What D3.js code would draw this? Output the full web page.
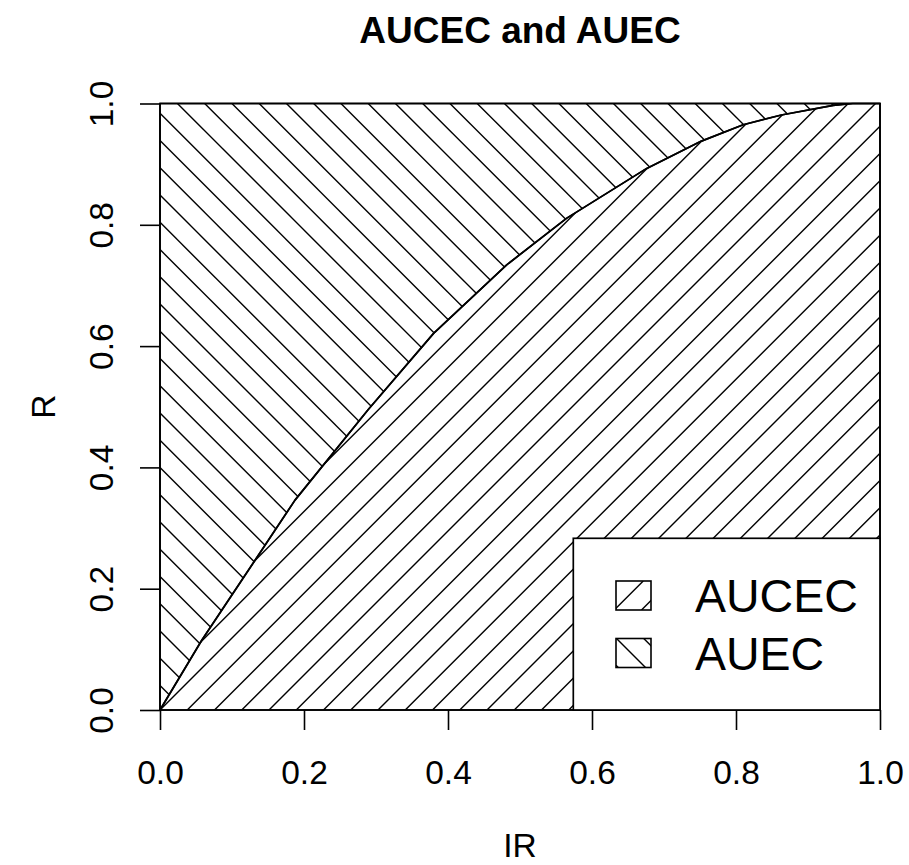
<!DOCTYPE html>
<html>
<head>
<meta charset="utf-8">
<script src="https://cdn.jsdelivr.net/npm/d3@7"></script>
<style>
  body { margin: 0; background: #fff; }
  svg text { font-family: "Liberation Sans", Arial, sans-serif; fill: #000; }
</style>
</head>
<body>
<div id="chart"></div>
<script>
// curve (IR vs R)
const irValues = [0, 0.058, 0.132, 0.1875, 0.289, 0.380, 0.4815, 0.565, 0.676, 0.752, 0.810, 0.863, 0.935, 0.962, 1];
const rValues  = [0, 0.115, 0.247, 0.346, 0.495, 0.621, 0.734, 0.811, 0.893, 0.938, 0.965, 0.981, 0.997, 1.0, 1];
const xTicks = [0, 0.2, 0.4, 0.6, 0.8, 1.0];
const yTicks = [0, 0.2, 0.4, 0.6, 0.8, 1.0];
const legendLabels = ['AUCEC', 'AUEC'];

const W = 909, H = 865;
const margin = { top: 103.5, right: 29, bottom: 155, left: 160 };
const width = W - margin.left - margin.right;
const height = H - margin.top - margin.bottom;
const hatchGap = 27.25;

const svg = d3.select('#chart').append('svg')
  .attr('width', W)
  .attr('height', H);

const x = d3.scaleLinear().domain([0, 1]).range([margin.left, margin.left + width]);
const y = d3.scaleLinear().domain([0, 1]).range([margin.top + height, margin.top]);

const pts = irValues.map((d, i) => [d, rValues[i]]);
const aucec = pts.concat([[1, 0]]);
const auec = pts.concat([[0, 1]]);

const toPath = arr => 'M' + arr.map(p => x(p[0]) + ',' + y(p[1])).join('L') + 'Z';

const defs = svg.append('defs');

// draw hatch lines (dir '/' : x+y=c, '\\' : x-y=c) inside a clip
function hatch(g, dir, offset, box) {
  const [x0, y0, x1, y1] = box;
  const lo = dir === '/' ? x0 + y0 : x0 - y1;
  const hi = dir === '/' ? x1 + y1 : x1 - y0;
  const kStart = Math.floor((lo - offset) / hatchGap) - 1;
  const kEnd = Math.ceil((hi - offset) / hatchGap) + 1;
  for (let k = kStart; k <= kEnd; k++) {
    const c = offset + k * hatchGap;
    const line = dir === '/'
      ? [c - y1, y1, c - y0, y0]
      : [c + y0, y0, c + y1, y1];
    g.append('line')
      .attr('x1', line[0]).attr('y1', line[1])
      .attr('x2', line[2]).attr('y2', line[3])
      .attr('stroke', '#000')
      .attr('stroke-width', 1.4);
  }
}

function hatchedArea(id, d, dir, offset) {
  defs.append('clipPath').attr('id', id).append('path').attr('d', d);
  const g = svg.append('g').attr('clip-path', `url(#${id})`);
  hatch(g, dir, offset, [margin.left, margin.top, margin.left + width, margin.top + height]);
  svg.append('path').attr('d', d)
    .attr('fill', 'none').attr('stroke', '#000').attr('stroke-width', 1.7)
    .attr('stroke-linejoin', 'round');
}

hatchedArea('clipAuec', toPath(auec), '\\', 46.7);
hatchedArea('clipAucec', toPath(aucec), '/', 870);

// box
svg.append('rect')
  .attr('x', margin.left).attr('y', margin.top)
  .attr('width', width).attr('height', height)
  .attr('fill', 'none').attr('stroke', '#000').attr('stroke-width', 1.7);

// axes
const xAxis = svg.append('g')
  .attr('transform', `translate(0,${margin.top + height})`)
  .call(d3.axisBottom(x).tickValues(xTicks).tickFormat(d3.format('.1f')).tickSize(20).tickPadding(30));
xAxis.select('.domain').remove();
xAxis.selectAll('line').attr('stroke-width', 1.6);
xAxis.selectAll('text').attr('font-size', 33.5).attr('font-family', null);

const yAxis = svg.append('g')
  .attr('transform', `translate(${margin.left},0)`)
  .call(d3.axisLeft(y).tickValues(yTicks).tickFormat(d3.format('.1f')).tickSize(20));
yAxis.select('.domain').remove();
yAxis.selectAll('line').attr('stroke-width', 1.6);
yAxis.selectAll('.tick text')
  .attr('font-size', 33.5).attr('font-family', null)
  .attr('text-anchor', 'middle')
  .attr('x', 0).attr('y', 0).attr('dy', 0)
  .attr('transform', 'translate(-47,0) rotate(-90)');

// labels
svg.append('text')
  .attr('x', x(0.5)).attr('y', 43)
  .attr('text-anchor', 'middle')
  .attr('font-size', 37).attr('font-weight', 'bold')
  .text('AUCEC and AUEC');

svg.append('text')
  .attr('x', x(0.5)).attr('y', 857)
  .attr('text-anchor', 'middle')
  .attr('font-size', 33.5)
  .text('IR');

svg.append('text')
  .attr('transform', `translate(55,${y(0.5)}) rotate(-90)`)
  .attr('text-anchor', 'middle')
  .attr('font-size', 33.5)
  .text('R');

// legend
const legX = 573.3, legY = 538.3;
svg.append('rect')
  .attr('x', legX).attr('y', legY)
  .attr('width', margin.left + width - legX).attr('height', margin.top + height - legY)
  .attr('fill', '#fff').attr('stroke', '#000').attr('stroke-width', 1.7);

const keyDirs = ['/', '\\'];
const keyOffsets = [870, -22];
legendLabels.forEach((lab, i) => {
  const ky = 581 + i * 57.5;
  const kb = [616, ky, 651, ky + 29];
  const id = 'keyClip' + i;
  defs.append('clipPath').attr('id', id).append('rect')
    .attr('x', kb[0]).attr('y', kb[1]).attr('width', kb[2] - kb[0]).attr('height', kb[3] - kb[1]);
  const g = svg.append('g').attr('clip-path', `url(#${id})`);
  hatch(g, keyDirs[i], keyOffsets[i], kb);
  svg.append('rect')
    .attr('x', kb[0]).attr('y', kb[1]).attr('width', kb[2] - kb[0]).attr('height', kb[3] - kb[1])
    .attr('fill', 'none').attr('stroke', '#000').attr('stroke-width', 1.6);
  svg.append('text')
    .attr('x', 695).attr('y', ky + 31)
    .attr('font-size', 46.5)
    .text(lab);
});
</script>
</body>
</html>
